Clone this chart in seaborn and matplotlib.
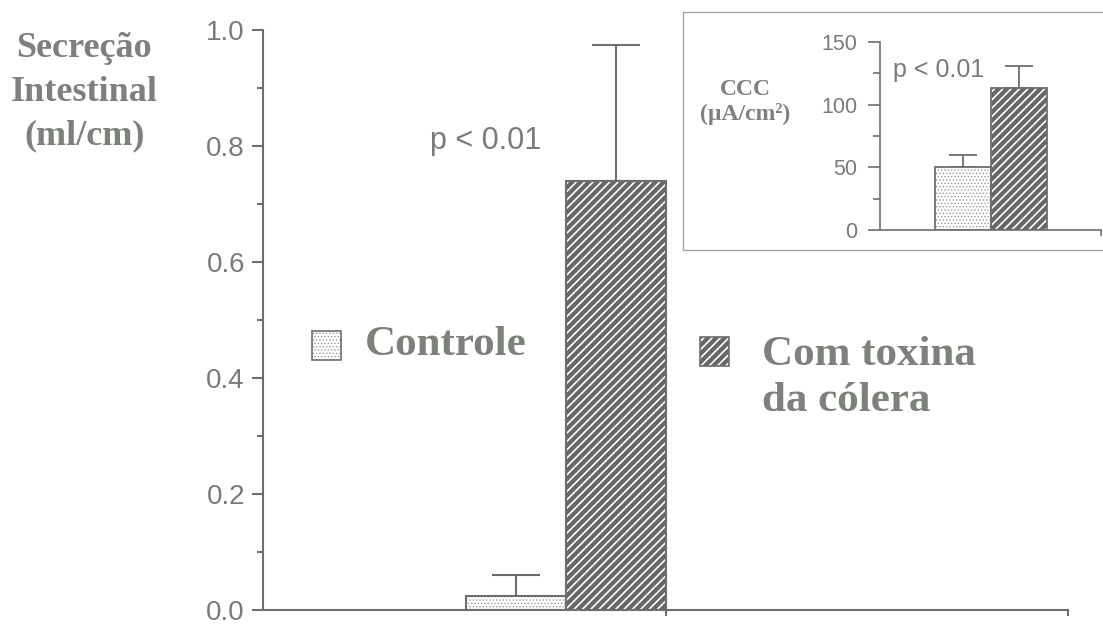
import matplotlib
matplotlib.use("Agg")
import matplotlib.pyplot as plt
from matplotlib.patches import Rectangle
from matplotlib.lines import Line2D
from matplotlib.ticker import MultipleLocator
import seaborn as sns
import pandas as pd

# ---- data -------------------------------------------------------------
groups = ["Controle", "Com toxina\nda cólera"]
secretion_mean = [0.025, 0.74]      # ml/cm
secretion_sem = [0.035, 0.235]
ccc_mean = [50, 113]                # µA/cm²
ccc_sem = [10, 18]
main_yticks = [0.0, 0.2, 0.4, 0.6, 0.8, 1.0]
inset_yticks = [0, 50, 100, 150]
p_label = "p < 0.01"
main_ylabel = "Secreção\nIntestinal\n(ml/cm)"
inset_ylabel = "CCC\n(\u00b5A/cm\u00b2)"

# ---- style ------------------------------------------------------------
sns.set_style("ticks")
plt.rcParams["font.family"] = ["Liberation Sans", "DejaVu Sans"]
plt.rcParams["hatch.linewidth"] = 1.2

LINE = "#6e6e6e"
TEXT = "#7d817c"
TICKTXT = "#7a7a7a"
DARK = "#666666"
DOTS = "#9a9a9a"
STRIPES = "////"
SERIF = ["Liberation Serif", "DejaVu Serif"]

W, H = 1103, 627
fig = plt.figure(figsize=(W / 100, H / 100), dpi=100)
fig.patch.set_facecolor("white")


def fx(px):
    return px / W


def fy(py):
    return 1 - py / H


def style_bars(ax, lw):
    """Stipple the control bar, stripe the toxin bar, then outline both."""
    bars = list(ax.patches)
    looks = [("white", DOTS, "....."), (DARK, "white", STRIPES)]
    for p, (face, hatch_col, hatch) in zip(bars, looks):
        p.set_facecolor(face)
        p.set_edgecolor(hatch_col)
        p.set_hatch(hatch)
        p.set_linewidth(0)
        if hatch.startswith(".") and hasattr(p, "set_hatch_linewidth"):
            p.set_hatch_linewidth(0.6)
        ax.add_patch(Rectangle((p.get_x(), p.get_y()), p.get_width(), p.get_height(),
                               fill=False, edgecolor=LINE, linewidth=lw,
                               zorder=p.get_zorder() + 0.1))
    return bars


def upper_errorbars(ax, bars, means, sems, capsize, lw):
    xc = [p.get_x() + p.get_width() / 2 for p in bars]
    ax.errorbar(xc, means, yerr=[[0] * len(sems), sems], fmt="none",
                ecolor=LINE, elinewidth=lw, capsize=capsize, capthick=lw,
                zorder=1)


# ---- main panel -------------------------------------------------------
ax = fig.add_axes([fx(263), fy(610), fx(1068) - fx(263), fy(30) - fy(610)])
df_main = pd.DataFrame({"grupo": groups, "secrecao": secretion_mean})
sns.barplot(data=df_main, x="grupo", y="secrecao", hue="grupo",
            palette=[DARK, DARK], width=1.0, errorbar=None, legend=False,
            saturation=1, ax=ax, zorder=2)
bars = style_bars(ax, 1.5)
upper_errorbars(ax, bars, secretion_mean, secretion_sem, 17.5, 1.5)

ax.set_xlim(-2.53, 5.52)
ax.set_ylim(0, 1.0)
ax.set_yticks(main_yticks)
ax.set_yticklabels([f"{v:.1f}" for v in main_yticks])
ax.yaxis.set_minor_locator(MultipleLocator(0.1))
ax.set_xticks([1.5, 5.52])
ax.set_xticklabels([])
ax.set_xlabel("")
sns.despine(ax=ax)
for s in ("left", "bottom"):
    ax.spines[s].set_color(LINE)
    ax.spines[s].set_linewidth(1.5)
ax.tick_params(axis="y", which="major", length=8, width=1.5, color=LINE,
               labelsize=20, labelcolor=TICKTXT, pad=5)
ax.tick_params(axis="y", which="minor", length=4, width=1.5, color=LINE)
ax.tick_params(axis="x", which="major", length=4, width=1.5, color=LINE)

ax.set_ylabel(main_ylabel, rotation=0, ha="center", va="center",
              fontsize=26, fontweight="bold", family=SERIF, color=TEXT,
              linespacing=1.42)
ax.yaxis.set_label_coords(-0.222, 0.893)

ax.text(-0.86, 0.795, p_label, ha="left", va="baseline", fontsize=22,
        color=TICKTXT)

# ---- legend -----------------------------------------------------------
legend_boxes = [(312, 331, 29, "white", DOTS, "....."),
                (700, 337, 29, DARK, "white", STRIPES)]
for (x0, y0, s, face, hc, hatch) in legend_boxes:
    sq = Rectangle((fx(x0), fy(y0 + s)), fx(s), s / H, transform=fig.transFigure,
                   facecolor=face, edgecolor=hc, hatch=hatch, linewidth=0)
    if hatch.startswith(".") and hasattr(sq, "set_hatch_linewidth"):
        sq.set_hatch_linewidth(0.6)
    fig.add_artist(sq)
    fig.add_artist(Rectangle((fx(x0), fy(y0 + s)), fx(s), s / H,
                             transform=fig.transFigure, fill=False,
                             edgecolor=LINE, linewidth=1.2))

legend_text_pos = [(365, [355]), (762, [365, 411])]
for label, (x0, baselines) in zip(groups, legend_text_pos):
    for line, yb in zip(label.split("\n"), baselines):
        fig.text(fx(x0), fy(yb), line, ha="left", va="baseline", fontsize=31,
                 fontweight="bold", family=SERIF, color=TEXT)

# ---- inset panel ------------------------------------------------------
BOX = "#a5a5a5"
fig.add_artist(Line2D([fx(683), 1.0], [fy(12), fy(12)], transform=fig.transFigure,
                      color=BOX, linewidth=1.0))
fig.add_artist(Line2D([fx(683), 1.0], [fy(250), fy(250)], transform=fig.transFigure,
                      color=BOX, linewidth=1.0))
fig.add_artist(Line2D([fx(683), fx(683)], [fy(12), fy(250)], transform=fig.transFigure,
                      color=BOX, linewidth=1.0))

ax2 = fig.add_axes([fx(880), fy(230), fx(1101) - fx(880), fy(42) - fy(230)])
df_ccc = pd.DataFrame({"grupo": groups, "ccc": ccc_mean})
sns.barplot(data=df_ccc, x="grupo", y="ccc", hue="grupo",
            palette=[DARK, DARK], width=1.0, errorbar=None, legend=False,
            saturation=1, ax=ax2, zorder=2)
bars2 = style_bars(ax2, 1.3)
upper_errorbars(ax2, bars2, ccc_mean, ccc_sem, 10, 1.3)

ax2.set_xlim(-1.48, 2.46)
ax2.set_ylim(0, 150)
ax2.set_yticks(inset_yticks)
ax2.yaxis.set_minor_locator(MultipleLocator(25))
ax2.set_xticks([2.46])
ax2.set_xticklabels([])
ax2.set_xlabel("")
ax2.patch.set_alpha(0)
sns.despine(ax=ax2)
for s in ("left", "bottom"):
    ax2.spines[s].set_color(LINE)
    ax2.spines[s].set_linewidth(1.2)
ax2.tick_params(axis="y", which="major", length=8.5, width=1.2, color=LINE,
                labelsize=15.5, labelcolor=TICKTXT, pad=8)
ax2.tick_params(axis="y", which="minor", length=5, width=1.2, color=LINE)
ax2.tick_params(axis="x", which="major", length=4, width=1.2, color=LINE)

ax2.set_ylabel(inset_ylabel, rotation=0, ha="center", va="center",
               fontsize=17, fontweight="bold", family=SERIF, color=TEXT,
               linespacing=1.15)
ax2.yaxis.set_label_coords(-0.611, 0.68)

ax2.text(-1.25, 122, p_label, ha="left", va="baseline", fontsize=18,
         color=TICKTXT)

fig.savefig("out.png", dpi=100, facecolor="white")
